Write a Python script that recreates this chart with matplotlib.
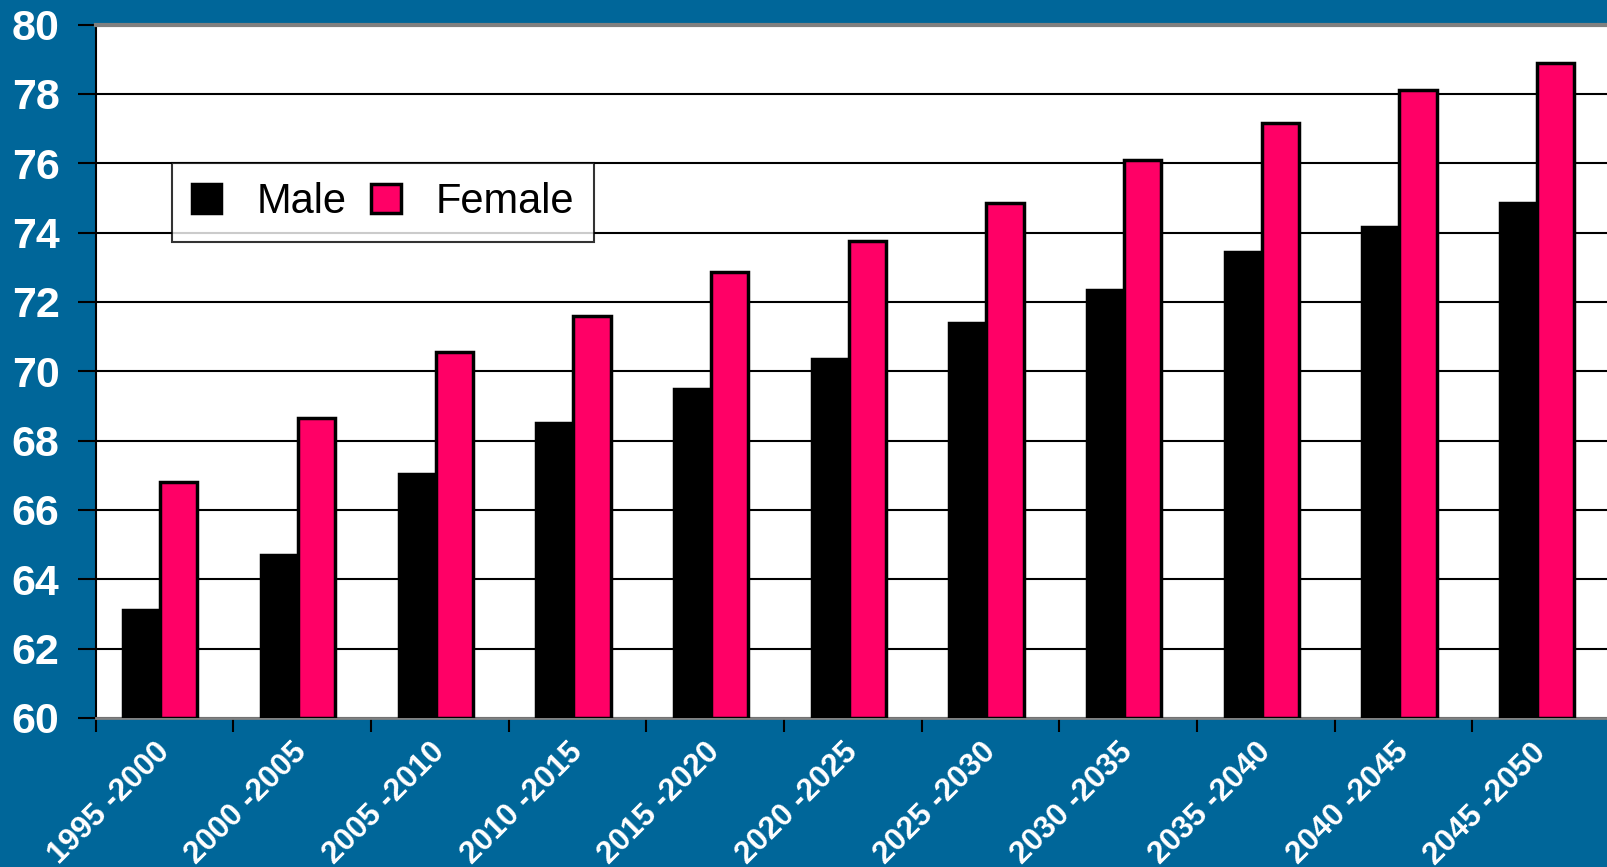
import matplotlib.pyplot as plt
import matplotlib.transforms as mtransforms
import numpy as np

periods = ['1995 -2000', '2000 -2005', '2005 -2010', '2010 -2015', '2015 -2020',
           '2020 -2025', '2025 -2030', '2030 -2035', '2035 -2040', '2040 -2045',
           '2045 -2050']
male = [63.1, 64.7, 67.05, 68.5, 69.5, 70.35, 71.4, 72.35, 73.45, 74.15, 74.85]
female = [66.8, 68.65, 70.55, 71.6, 72.85, 73.75, 74.85, 76.1, 77.15, 78.1, 78.9]

blue = '#006699'
pink = '#FF0066'

plt.rcParams['font.family'] = ['Liberation Sans', 'DejaVu Sans']

fig = plt.figure(figsize=(16.07, 8.67), dpi=100, facecolor=blue)
ax = fig.add_axes([0.0595, 0.1719, 0.9424, 0.7998])
ax.set_facecolor('white')

x = np.arange(len(periods))
w = 0.27
mid = 0.47
ax.bar(x + mid - w / 2, [m - 60 for m in male], w, bottom=60, color='black',
       edgecolor='black', linewidth=2.5, label='Male', zorder=3)
ax.bar(x + mid + w / 2, [f - 60 for f in female], w, bottom=60, color=pink,
       edgecolor='black', linewidth=2.5, label='Female', zorder=3)

ax.set_xlim(0, len(periods))
ax.set_ylim(60, 80)
ax.set_yticks(range(60, 81, 2))
ax.yaxis.grid(True, color='black', linewidth=1.5, zorder=1)
ax.set_axisbelow(True)

ax.set_xticks(x, minor=False)
ax.set_xticklabels([])
ax.set_xticks(x + 0.5, minor=True)
ax.set_xticklabels(periods, minor=True, rotation=45, ha='right', va='top',
                   color='white', fontsize=22.5, fontweight='bold')
ax.tick_params(axis='x', which='major', direction='out', length=10, width=1.5,
               color='black')
ax.tick_params(axis='x', which='minor', length=0, pad=14)
# nudge the slanted labels a little to the right
shift = mtransforms.ScaledTranslation(11 / 100, 0, fig.dpi_scale_trans)
for lbl in ax.get_xticklabels(minor=True):
    lbl.set_transform(lbl.get_transform() + shift)

ax.tick_params(axis='y', direction='out', length=13, width=1.5, color='black',
               labelcolor='white', labelsize=31, pad=13)
for lbl in ax.get_yticklabels():
    lbl.set_fontweight('bold')

ax.spines['top'].set_color('#808080')
ax.spines['top'].set_linewidth(3)
ax.spines['bottom'].set_color('#808080')
ax.spines['bottom'].set_linewidth(2)
ax.spines['left'].set_color('black')
ax.spines['left'].set_linewidth(1.5)
ax.spines['right'].set_visible(False)

leg = ax.legend(loc='upper left', bbox_to_anchor=(0.0506, 0.8007), ncol=2,
                fontsize=30, frameon=True, fancybox=False, borderaxespad=0,
                handlelength=0.7, handleheight=0.7, handletextpad=0.85,
                columnspacing=0.6, borderpad=0.47)
leg.get_frame().set_edgecolor('black')
leg.get_frame().set_linewidth(1.5)
leg.set_zorder(5)

fig.savefig('out.png', dpi=100, facecolor=blue)
